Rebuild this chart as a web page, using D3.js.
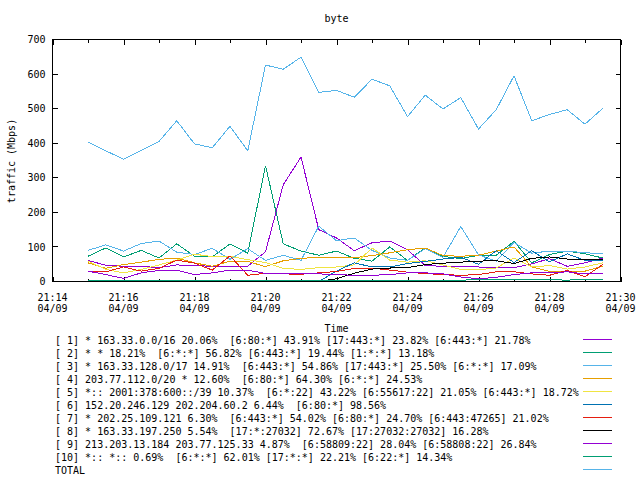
<!DOCTYPE html>
<html><head><meta charset="utf-8">
<script src="https://cdn.jsdelivr.net/npm/d3@7"></script>
<style>
body{margin:0;background:#fff}
svg{display:block;background:#fff}
text{font-family:"DejaVu Sans Mono",monospace;font-size:10px;fill:#000;white-space:pre}
</style>
</head><body><svg id="c" width="640" height="480"></svg>
<script>
const title = "byte";
const yLabel = "traffic (Mbps)";
const xLabel = "Time";
const dayStr = "2014-04-09";
const xDomain = ["21:14:00", "21:30:00"];
const yTicks = [0, 100, 200, 300, 400, 500, 600, 700];
const times = ["21:15:00","21:15:30","21:16:00","21:16:30","21:17:00","21:17:30","21:18:00","21:18:30","21:19:00","21:19:30",
               "21:20:00","21:20:30","21:21:00","21:21:30","21:22:00","21:22:30","21:23:00","21:23:30","21:24:00","21:24:30",
               "21:25:00","21:25:30","21:26:00","21:26:30","21:27:00","21:27:30","21:28:00","21:28:30","21:29:00","21:29:30"];
const s1  = [61,47,44,44,40,48,46,44,44,44,86,280,360,150,126,89,112,117,92,46,44,43,42,40,40,51,66,44,54,68];
const s2  = [73,97,71,90,68,109,73,71,109,82,335,109,88,76,88,67,59,100,61,97,73,66,76,76,116,54,78,88,80,68];
const s3  = [90,106,88,110,117,85,78,96,64,95,61,76,61,160,118,126,90,68,61,95,70,159,77,59,113,82,88,88,83,81];
const s4  = [54,38,49,56,64,68,54,44,59,58,43,60,67,70,70,69,75,83,92,97,75,73,76,88,100,42,29,29,30,44];
const s5  = [59,35,25,35,48,62,79,72,73,63,55,38,35,40,42,48,97,62,56,60,48,35,34,39,68,42,46,36,42,54];
const s6  = [null,null,null,null,null,null,null,null,null,null,null,null,null,0,30,54,42,42,52,58,65,70,50,89,55,89,57,80,61,61];
const s7  = [30,28,42,30,38,62,53,33,74,18,24,22,21,25,29,38,39,33,27,23,20,18,20,28,28,22,18,32,14,49];
const s8  = [null,null,null,null,null,null,null,null,null,null,null,null,null,0,8,24,36,39,40,49,53,56,59,60,52,67,71,65,64,65];
const s9  = [30,20,9,25,32,33,20,25,33,33,23,23,23,22,20,18,18,20,25,25,22,13,8,12,20,25,25,28,22,22];
const s10 = [3,3,3,3,3,3,3,3,3,3,3,3,3,3,3,3,3,3,3,3,3,4,5,5,6,5,5,4,6,6];
const total = [403,378,354,379,405,465,398,387,449,378,626,614,649,547,553,533,585,566,477,539,499,532,441,497,595,465,483,497,455,501];
const seriesColors = ["#9400d3","#009e73","#56b4e9","#e69f00","#f0e442","#0072b2","#e51e10","#000000","#9400d3","#009e73","#56b4e9"];
const legendLabels = [
  "[ 1] * 163.33.0.0/16 20.06%  [6:80:*] 43.91% [17:443:*] 23.82% [6:443:*] 21.78%",
  "[ 2] * * 18.21%  [6:*:*] 56.82% [6:443:*] 19.44% [1:*:*] 13.18%",
  "[ 3] * 163.33.128.0/17 14.91%  [6:443:*] 54.86% [17:443:*] 25.50% [6:*:*] 17.09%",
  "[ 4] 203.77.112.0/20 * 12.60%  [6:80:*] 64.30% [6:*:*] 24.53%",
  "[ 5] *:: 2001:378:600::/39 10.37%  [6:*:22] 43.22% [6:55617:22] 21.05% [6:443:*] 18.72%",
  "[ 6] 152.20.246.129 202.204.60.2 6.44%  [6:80:*] 98.56%",
  "[ 7] * 202.25.109.121 6.30%  [6:443:*] 54.02% [6:80:*] 24.70% [6:443:47265] 21.02%",
  "[ 8] * 163.33.197.250 5.54%  [17:*:27032] 72.67% [17:27032:27032] 16.28%",
  "[ 9] 213.203.13.184 203.77.125.33 4.87%  [6:58809:22] 28.04% [6:58808:22] 26.84%",
  "[10] *:: *:: 0.69%  [6:*:*] 62.01% [17:*:*] 22.21% [6:22:*] 14.34%",
  "TOTAL"
];

const allSeries = [s1, s2, s3, s4, s5, s6, s7, s8, s9, s10, total];
const parse = d3.timeParse("%Y-%m-%d %H:%M:%S");
const tDates = times.map(t => parse(dayStr + " " + t));

const svg = d3.select("#c");
const L = 52.5, R = 620.5, T = 39.5, B = 281.5;
const x = d3.scaleTime().domain(xDomain.map(t => parse(dayStr + " " + t))).range([L, R]);
const y = d3.scaleLinear().domain([0, 700]).range([B, T]);

// ticks
const tickG = svg.append("g").attr("stroke", "#000").attr("stroke-width", 1).attr("shape-rendering", "crispEdges");
const minuteTicks = x.ticks(d3.timeMinute.every(1));
minuteTicks.forEach(d => {
  const px = Math.round(x(d)) + 0.5;
  const major = d.getMinutes() % 2 === 0;
  const len = major ? 5 : 3;
  tickG.append("line").attr("x1", px).attr("x2", px).attr("y1", B).attr("y2", B - len);
  tickG.append("line").attr("x1", px).attr("x2", px).attr("y1", T).attr("y2", T + len);
});
yTicks.forEach(v => {
  const py = Math.round(y(v) - 0.5) + 0.5;
  tickG.append("line").attr("x1", L).attr("x2", L + 5).attr("y1", py).attr("y2", py);
  tickG.append("line").attr("x1", R).attr("x2", R - 5).attr("y1", py).attr("y2", py);
});

// tick labels
yTicks.forEach(v => {
  svg.append("text").attr("x", 45.5).attr("y", y(v) + 3.6).attr("text-anchor", "end").text(v);
});
const fmtT = d3.timeFormat("%H:%M"), fmtD = d3.timeFormat("%m/%d");
x.ticks(d3.timeMinute.every(2)).forEach(d => {
  svg.append("text").attr("x", x(d)).attr("y", 300.6).attr("text-anchor", "middle").text(fmtT(d));
  svg.append("text").attr("x", x(d)).attr("y", 312).attr("text-anchor", "middle").text(fmtD(d));
});

// lines
const line = d3.line()
  .defined(d => d.v !== null)
  .x(d => x(d.t))
  .y(d => y(d.v));
allSeries.forEach((s, i) => {
  const pts = s.map((v, j) => ({ t: tDates[j], v: v }));
  svg.append("path").attr("d", line(pts)).attr("fill", "none")
    .attr("stroke", seriesColors[i]).attr("stroke-width", 1)
    .attr("shape-rendering", "crispEdges");
});

// border
svg.append("rect").attr("x", L).attr("y", T).attr("width", R - L).attr("height", B - T)
  .attr("fill", "none").attr("stroke", "#000").attr("stroke-width", 1).attr("shape-rendering", "crispEdges");

// titles
svg.append("text").attr("x", (L + R) / 2).attr("y", 22).attr("text-anchor", "middle").text(title);
svg.append("text").attr("transform", "translate(14.5,161) rotate(-90)").attr("text-anchor", "middle").text(yLabel);
svg.append("text").attr("x", (L + R) / 2).attr("y", 332).attr("text-anchor", "middle").text(xLabel);

// legend
legendLabels.forEach((lab, i) => {
  svg.append("text").attr("x", 55).attr("y", 343.5 + 13 * i).text(lab);
  const ly = Math.round(339.3 + 13 * i) + 0.5;
  svg.append("line").attr("x1", 583).attr("x2", 612).attr("y1", ly).attr("y2", ly)
    .attr("stroke", seriesColors[i]).attr("stroke-width", 1).attr("shape-rendering", "crispEdges");
});
</script>
</body></html>
